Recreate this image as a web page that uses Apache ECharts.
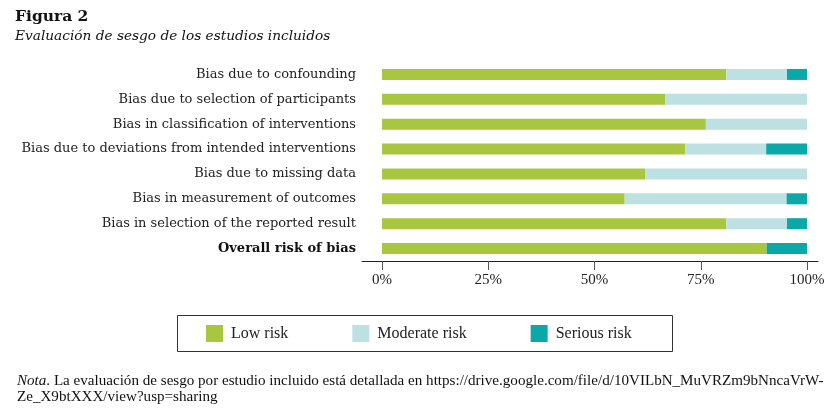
<!DOCTYPE html>
<html>
<head>
<meta charset="utf-8">
<title>Figura 2</title>
<script src="https://cdn.jsdelivr.net/npm/echarts@6/dist/echarts.min.js"></script>
</head>
<body style="margin: 0; background: #fff">
<div id="main" style="width: 839px; height: 418px"></div>
<script type="text/javascript">
// dominios de sesgo (ROBINS-I)
var categories = [
  'Bias due to confounding',
  'Bias due to selection of participants',
  'Bias in classification of interventions',
  'Bias due to deviations from intended interventions',
  'Bias due to missing data',
  'Bias in measurement of outcomes',
  'Bias in selection of the reported result',
  'Overall risk of bias'
];
// porcentaje de estudios por nivel de riesgo
var lowRisk      = [81.0, 66.7, 76.2, 71.4, 61.9, 57.1, 81.0, 90.5];
var moderateRisk = [14.3, 33.3, 23.8, 19.0, 38.1, 38.1, 14.3, 0];
var seriousRisk  = [4.7, 0, 0, 9.6, 0, 4.8, 4.7, 9.5];
var seriesNames  = ['Low risk', 'Moderate risk', 'Serious risk'];
var colors = ['#a8c640', '#bde0e2', '#0aa8a7'];

var serif = 'DejaVu Serif';
var times = 'Liberation Serif';

var myChart = echarts.init(document.getElementById('main'));

var option = {
  backgroundColor: '#ffffff',
  animation: false,
  title: [
    {
      text: 'Figura 2', left: 15, top: 9, padding: 0,
      textStyle: { fontFamily: serif, fontWeight: 'bold', fontSize: 15.5, color: '#111' }
    },
    {
      text: 'Evaluación de sesgo de los estudios incluidos', left: 15, top: 29, padding: 0,
      textStyle: { fontFamily: serif, fontStyle: 'italic', fontWeight: 'normal', fontSize: 13.7, color: '#111' }
    },
    {
      text: '{i|Nota}. La evaluación de sesgo por estudio incluido está detallada en https://drive.google.com/file/d/10VILbN_MuVRZm9bNncaVrW-\nZe_X9btXXX/view?usp=sharing',
      left: 17, top: 373, padding: 0,
      textStyle: {
        fontFamily: times, fontWeight: 'normal', fontSize: 15.1, lineHeight: 16, color: '#111',
        rich: { i: { fontFamily: times, fontStyle: 'italic', fontSize: 15.1, lineHeight: 16, color: '#111' } }
      }
    }
  ],
  legend: {
    data: seriesNames,
    left: 201, top: 320,
    icon: 'rect',
    itemWidth: 17, itemHeight: 17, itemGap: 64,
    selectedMode: false,
    textStyle: { fontFamily: times, fontSize: 16, color: '#222', padding: [0, 0, 0, 3] }
  },
  graphic: [
    {
      type: 'rect',
      shape: { x: 177.5, y: 315.5, width: 495, height: 36 },
      style: { fill: 'none', stroke: '#333', lineWidth: 1 }
    }
  ],
  grid: [
    { left: 382, right: 32, top: 62, height: 199 },
    { left: 362, right: 21, top: 62, height: 199 }
  ],
  xAxis: [
    {
      type: 'value', gridIndex: 0, min: 0, max: 100, interval: 25,
      axisLine: { show: false },
      axisTick: { show: true, length: 9, lineStyle: { color: '#555' } },
      splitLine: { show: false },
      axisLabel: { formatter: '{value}%', margin: 12, fontFamily: times, fontSize: 15, color: '#222' }
    },
    {
      type: 'value', gridIndex: 1, min: 0, max: 1,
      axisLine: { show: true, lineStyle: { color: '#222', width: 1 } },
      axisTick: { show: false }, axisLabel: { show: false }, splitLine: { show: false }
    }
  ],
  yAxis: [
    {
      type: 'category', gridIndex: 0, data: categories, inverse: true,
      axisLine: { show: false }, axisTick: { show: false },
      axisLabel: {
        margin: 26, fontFamily: serif, fontSize: 13, color: '#222',
        formatter: function (v, i) {
          return i === categories.length - 1 ? '{b|' + v + '}' : v;
        },
        rich: { b: { fontFamily: serif, fontSize: 13, fontWeight: 'bold', color: '#111' } }
      }
    },
    { type: 'category', gridIndex: 1, show: false, data: categories }
  ],
  series: [
    { name: seriesNames[0], type: 'bar', stack: 'total', barWidth: 11, data: lowRisk, itemStyle: { color: colors[0] } },
    { name: seriesNames[1], type: 'bar', stack: 'total', barWidth: 11, data: moderateRisk, itemStyle: { color: colors[1] } },
    { name: seriesNames[2], type: 'bar', stack: 'total', barWidth: 11, data: seriousRisk, itemStyle: { color: colors[2] } }
  ]
};
myChart.setOption(option);
</script>
</body>
</html>
